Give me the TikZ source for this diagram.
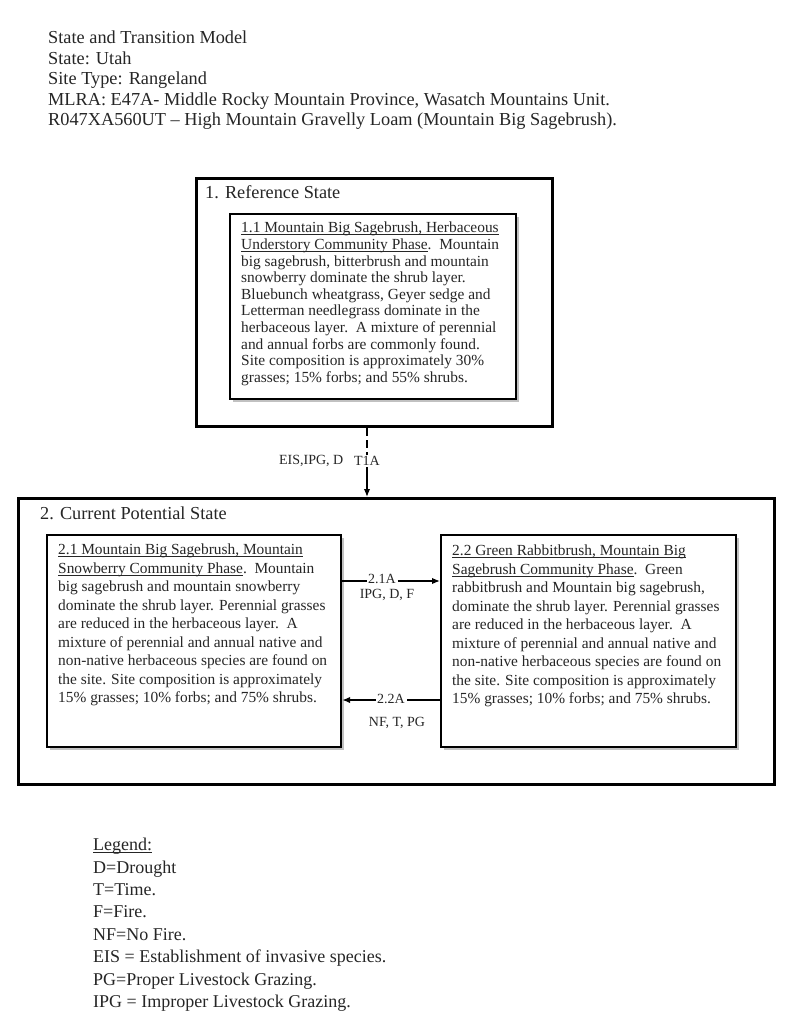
\documentclass[tikz,border=0pt]{standalone}
\usepackage{fontspec}
\setmainfont{Liberation Serif}
\usetikzlibrary{arrows.meta,shadows}
\definecolor{ink}{RGB}{38,38,38}
\newcommand{\ulin}[1]{\setbox0\hbox{#1}\rlap{\rule[-2.2pt]{\wd0}{0.7pt}}\box0}
\begin{document}
\begin{tikzpicture}[x=1pt,y=-1pt,
  statebox/.style={draw=black,line width=3pt,anchor=north west,inner sep=0pt},
  phasebox/.style={draw=black,line width=2.2pt,fill=white,anchor=north west,inner sep=0pt,
    drop shadow={shadow xshift=2.5pt,shadow yshift=-2.5pt,fill=black!40,opacity=0.6}},
  txt/.style={anchor=north west,inner sep=0pt,align=left,text=ink},
  head/.style={txt,font=\fontsize{18.3}{20.5}\selectfont},
  body/.style={txt,font=\fontsize{15.4}{16.6}\selectfont},
  bodyb/.style={txt,font=\fontsize{15.4}{18.5}\selectfont},
  lab/.style={inner sep=1.5pt,text=ink,font=\fontsize{14}{16}\selectfont},
  conn/.style={line width=1.5pt,draw=black},
  tip/.style={-{Latex[length=8pt,width=6.5pt]}}
]
\useasboundingbox[fill=white] (0,0) rectangle (800,1027);

% header
\node[head] (hdr) at (48,31) {State and Transition Model\\
State: Utah\\
Site Type: Rangeland\\
MLRA: E47A- Middle Rocky Mountain Province, Wasatch Mountains Unit.\\
R047XA560UT -- High Mountain Gravelly Loam (Mountain Big Sagebrush).};

% state 1
\node[statebox,minimum width=356pt,minimum height=248pt] (s1) at (195,177) {};
\node[head] (s1t) at (205,185) {1. Reference State};
\node[phasebox,minimum width=286pt,minimum height=185pt] (p11) at (229,213) {};
\node[body] (p11t) at (241,222) {\ulin{1.1 Mountain Big Sagebrush, Herbaceous}\\
\ulin{Understory Community Phase}.\ \ Mountain\\
big sagebrush, bitterbrush and mountain\\
snowberry dominate the shrub layer.\\
Bluebunch wheatgrass, Geyer sedge and\\
Letterman needlegrass dominate in the\\
herbaceous layer.\ \ A mixture of perennial\\
and annual forbs are commonly found.\\
Site composition is approximately 30\%\\
grasses; 15\% forbs; and 55\% shrubs.};

% state 2
\node[statebox,minimum width=756pt,minimum height=286pt] (s2) at (17,497) {};
\node[head] (s2t) at (40,507) {2. Current Potential State};
\node[phasebox,minimum width=294pt,minimum height=212pt] (p21) at (46,534) {};
\node[bodyb] (p21t) at (58,544) {\ulin{2.1 Mountain Big Sagebrush, Mountain}\\
\ulin{Snowberry Community Phase}.\ \ Mountain\\
big sagebrush and mountain snowberry\\
dominate the shrub layer. Perennial grasses\\
are reduced in the herbaceous layer.\ \ A\\
mixture of perennial and annual native and\\
non-native herbaceous species are found on\\
the site. Site composition is approximately\\
15\% grasses; 10\% forbs; and 75\% shrubs.};
\node[phasebox,minimum width=295pt,minimum height=212pt] (p22) at (440,534) {};
\node[bodyb] (p22t) at (452,545) {\ulin{2.2 Green Rabbitbrush, Mountain Big}\\
\ulin{Sagebrush Community Phase}.\ \ Green\\
rabbitbrush and Mountain big sagebrush,\\
dominate the shrub layer. Perennial grasses\\
are reduced in the herbaceous layer.\ \ A\\
mixture of perennial and annual native and\\
non-native herbaceous species are found on\\
the site. Site composition is approximately\\
15\% grasses; 10\% forbs; and 75\% shrubs.};

% transition T1A
\node[lab] (t1a) at (367,461) {T1A};
\node[lab,anchor=east] (t1al) at (345,461) {EIS,IPG, D};
\draw[conn,dash pattern=on 8pt off 4pt] (s1.south -| t1a) -- (t1a.north);
\draw[conn,tip] (t1a.south) -- (s2.north -| t1a);

% pathway 2.1A
\node[lab] (l21) at (382,579) {2.1A};
\node[lab] (l21b) at (387,595) {IPG, D, F};
\draw[conn] (p21.east |- 0,581) -- (l21.west |- 0,581);
\draw[conn,tip] (l21.east |- 0,581) -- (p22.west |- 0,581);

% pathway 2.2A
\node[lab] (l22) at (391,699) {2.2A};
\node[lab] (l22b) at (397,723) {NF, T, PG};
\draw[conn] (p22.west |- 0,700) -- (l22.east |- 0,700);
\draw[conn,tip] (l22.west |- 0,700) -- (p21.east |- 0,700);

% legend
\node[txt,font=\fontsize{18}{22.4}\selectfont] (leg) at (93,838) {\ulin{Legend:}\\
D=Drought\\
T=Time.\\
F=Fire.\\
NF=No Fire.\\
EIS = Establishment of invasive species.\\
PG=Proper Livestock Grazing.\\
IPG = Improper Livestock Grazing.};
\end{tikzpicture}
\end{document}
